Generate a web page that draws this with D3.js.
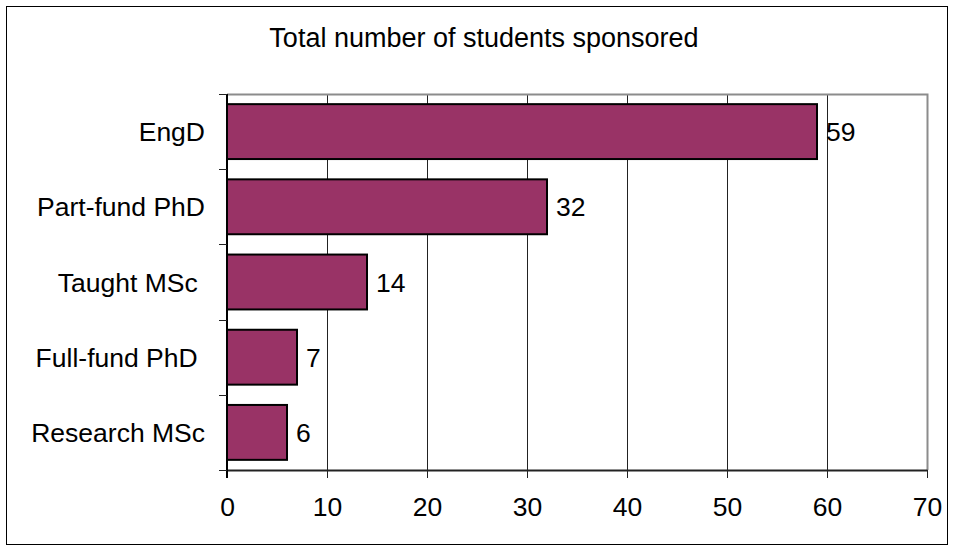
<!DOCTYPE html>
<html>
<head>
<meta charset="utf-8">
<script src="https://cdn.jsdelivr.net/npm/d3@7"></script>
<style>
  html, body { margin: 0; padding: 0; background: #fff; }
  svg text { font-family: "Liberation Sans", Arial, sans-serif; fill: #000; white-space: pre; }
</style>
</head>
<body>
<svg id="chart" width="955" height="552"></svg>
<script>
const categories = ["EngD", "Part-fund PhD", "Taught MSc ", "Full-fund PhD ", "Research MSc"];
const values = [59, 32, 14, 7, 6];
const xTicks = [0, 10, 20, 30, 40, 50, 60, 70];
const title = "Total number of students sponsored";

(function () {
const svg = d3.select("#chart");
const W = 955, H = 552;
const pLeft = 227, pRight = 927, pTop = 94, pBottom = 470;
const fs = 26.5;

svg.append("rect").attr("x", 0).attr("y", 0).attr("width", W).attr("height", H).attr("fill", "#fff");
svg.append("rect").attr("x", 6.5).attr("y", 6.5).attr("width", 941).attr("height", 538)
  .attr("fill", "none").attr("stroke", "#000").attr("stroke-width", 1);

const x = d3.scaleLinear().domain([0, 70]).range([pLeft, pRight]);
const y = d3.scaleBand().domain(categories).range([pTop, pBottom]).paddingInner(0.27).paddingOuter(0.135);

// gridlines
svg.append("g").selectAll("line").data(xTicks.filter(t => t > 0 && t < 70)).join("line")
  .attr("x1", d => Math.round(x(d)) + 0.5).attr("x2", d => Math.round(x(d)) + 0.5)
  .attr("y1", pTop).attr("y2", pBottom)
  .attr("stroke", "#222").attr("stroke-width", 1);

// plot border (top & right gray)
svg.append("path")
  .attr("d", `M${pLeft},${pTop + 0.5}H${pRight + 0.5}V${pBottom}`)
  .attr("fill", "none").attr("stroke", "#8c8c8c").attr("stroke-width", 2);

// bars
svg.append("g").selectAll("rect").data(categories).join("rect")
  .attr("x", x(0))
  .attr("y", d => y(d))
  .attr("width", (d, i) => x(values[i]) - x(0))
  .attr("height", y.bandwidth())
  .attr("fill", "#993366")
  .attr("stroke", "#000").attr("stroke-width", 2);

// value labels
svg.append("g").selectAll("text").data(categories).join("text")
  .attr("x", (d, i) => x(values[i]) + 9)
  .attr("y", d => y(d) + y.bandwidth() / 2)
  .attr("dy", "0.36em")
  .attr("font-size", fs)
  .text((d, i) => values[i]);

// x axis
const xAxis = d3.axisBottom(x).tickValues(xTicks).tickSize(8).tickPadding(19).tickSizeOuter(0);
const gx = svg.append("g").attr("transform", `translate(0,${pBottom})`).call(xAxis);
gx.select(".domain").attr("stroke", "#222").attr("stroke-width", 2);
gx.selectAll(".tick line").attr("stroke", "#222").attr("stroke-width", 1);
gx.selectAll(".tick text").attr("font-size", fs).attr("font-family", "Liberation Sans, Arial, sans-serif").attr("fill", "#000");

// y axis: ticks at band boundaries
const yg = svg.append("g");
yg.append("line").attr("x1", pLeft).attr("x2", pLeft).attr("y1", pTop).attr("y2", pBottom + 8)
  .attr("stroke", "#000").attr("stroke-width", 2);
const boundaries = d3.range(categories.length + 1).map(i => pTop + i * (pBottom - pTop) / categories.length);
yg.selectAll("line.tk").data(boundaries).join("line").attr("class", "tk")
  .attr("x1", pLeft - 8).attr("x2", pLeft)
  .attr("y1", d => Math.round(d) + 0.5).attr("y2", d => Math.round(d) + 0.5)
  .attr("stroke", "#222").attr("stroke-width", 1);

// category labels
svg.append("g").selectAll("text").data(categories).join("text")
  .attr("x", 205)
  .attr("y", d => y(d) + y.bandwidth() / 2)
  .attr("dy", "0.36em")
  .attr("text-anchor", "end")
  .attr("font-size", fs)
  .text(d => d);

// title
svg.append("text").attr("x", 484).attr("y", 47).attr("text-anchor", "middle")
  .attr("font-size", 27).text(title);
})();
</script>
</body>
</html>
